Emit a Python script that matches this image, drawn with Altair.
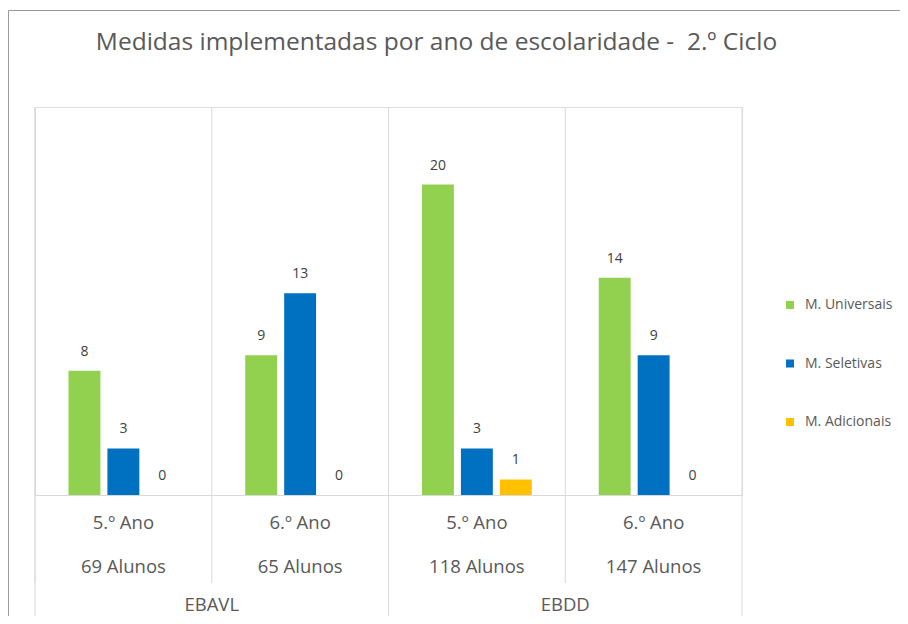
import altair as alt
import pandas as pd

# ---- data ----
escolas = ["EBAVL", "EBAVL", "EBDD", "EBDD"]
anos = ["5.º Ano", "6.º Ano", "5.º Ano", "6.º Ano"]
alunos = ["69 Alunos", "65 Alunos", "118 Alunos", "147 Alunos"]
series = ["M. Universais", "M. Seletivas", "M. Adicionais"]
universais = [8, 9, 20, 14]
seletivas = [3, 13, 3, 9]
adicionais = [0, 0, 1, 0]
cores = ["#92D050", "#0070C0", "#FFC000"]
titulo = "Medidas implementadas por ano de escolaridade - \u00a02.º Ciclo"

grupos = [f"{e} {a}" for e, a in zip(escolas, anos)]
valores = {"M. Universais": universais, "M. Seletivas": seletivas, "M. Adicionais": adicionais}

rows = []
for s in series:
    for i, g in enumerate(grupos):
        rows.append({"grupo": g, "serie": s, "valor": valores[s][i]})
df = pd.DataFrame(rows)
gdf = pd.DataFrame({"grupo": grupos, "escola": escolas, "ano": anos, "alunos": alunos,
                    "primeiro": [a == "5.º Ano" for a in anos],
                    "ultimo": [i == len(grupos) - 1 for i in range(len(grupos))]})

FONT = "Open Sans"
W, H = 707, 388
xscale = alt.Scale(domain=grupos, paddingInner=0, paddingOuter=0)
xo_scale = alt.Scale(domain=series, paddingInner=0.18, paddingOuter=0.86)
yscale = alt.Scale(domain=[0, 25])

x_enc = alt.X("grupo:N", scale=xscale,
              axis=alt.Axis(labels=False, ticks=False, title=None, domainColor="#d9d9d9",
                            domainWidth=1, grid=False))

bars = alt.Chart(df).mark_bar().encode(
    x=x_enc,
    xOffset=alt.XOffset("serie:N", scale=xo_scale),
    y=alt.Y("valor:Q", scale=yscale, axis=None),
    color=alt.Color("serie:N", scale=alt.Scale(domain=series, range=cores),
                    legend=alt.Legend(title=None, orient="none", legendX=748, legendY=191,
                                      symbolType="square", symbolSize=64, symbolStrokeWidth=0,
                                      labelFontSize=14, labelFont=FONT, labelColor="#595959",
                                      rowPadding=44.5, labelOffset=8, padding=0)),
)

vals = alt.Chart(df).mark_text(baseline="middle", dy=-19, fontSize=14, font=FONT,
                               color="#404040").encode(
    x=alt.X("grupo:N", scale=xscale),
    xOffset=alt.XOffset("serie:N", scale=xo_scale),
    y=alt.Y("valor:Q", scale=yscale),
    text="valor:Q",
)

rule_color = "#d9d9d9"
sep_short = alt.Chart(gdf).mark_rule(color=rule_color, strokeWidth=1).encode(
    x=alt.X("grupo:N", scale=xscale, bandPosition=0),
    y=alt.value(0), y2=alt.value(476),
)
sep_long = alt.Chart(gdf).transform_filter("datum.primeiro").mark_rule(
    color=rule_color, strokeWidth=1).encode(
    x=alt.X("grupo:N", scale=xscale, bandPosition=0),
    y=alt.value(0), y2=alt.value(520),
)
sep_end = alt.Chart(gdf).transform_filter("datum.ultimo").mark_rule(
    color=rule_color, strokeWidth=1).encode(
    x=alt.X("grupo:N", scale=xscale, bandPosition=1),
    y=alt.value(0), y2=alt.value(520),
)

lbl_style = dict(fontSize=18.5, font=FONT, color="#595959", baseline="middle", align="center")
ano_txt = alt.Chart(gdf).mark_text(**lbl_style).encode(
    x=alt.X("grupo:N", scale=xscale), y=alt.value(416), text="ano:N")
alunos_txt = alt.Chart(gdf).mark_text(**lbl_style).encode(
    x=alt.X("grupo:N", scale=xscale), y=alt.value(460), text="alunos:N")
escola_txt = alt.Chart(gdf).transform_filter("datum.primeiro").mark_text(**lbl_style).encode(
    x=alt.X("grupo:N", scale=xscale, bandPosition=1), y=alt.value(498), text="escola:N")

frame = alt.Chart(pd.DataFrame({"a": [0]})).mark_rect(
    fill=None, stroke="#9a9a9a", strokeWidth=1).encode(
    x=alt.value(-26.5), x2=alt.value(1000), y=alt.value(-96.5), y2=alt.value(1000))

chart = alt.layer(
    frame, sep_short, sep_long, sep_end, bars, vals, ano_txt, alunos_txt, escola_txt
).properties(
    width=W, height=H,
    title=alt.TitleParams(titulo, fontSize=24.5, font=FONT, color="#595959",
                          fontWeight="normal", anchor="middle", dx=48, offset=-45,
                          frame="group"),
    autosize=alt.AutoSizeParams(type="none"),
    padding={"left": 27, "top": 99, "right": 158, "bottom": 121},
).configure_view(stroke=None).configure(background="white")

chart.save("out.html", embed_options={"renderer": "svg", "actions": False})
